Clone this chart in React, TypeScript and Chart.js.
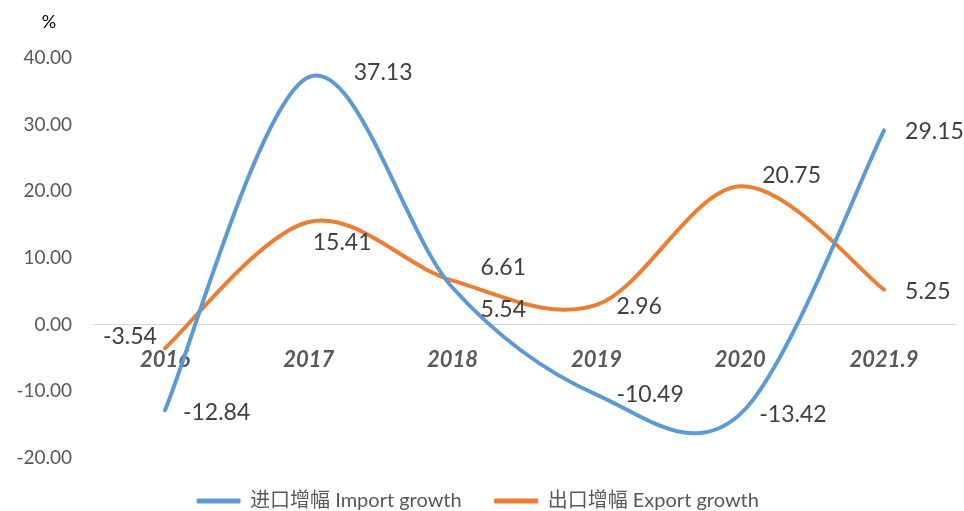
import React, { useEffect, useRef } from "react";
import { Chart, registerables } from "chart.js";

Chart.register(...registerables);

const categories = ["2016", "2017", "2018", "2019", "2020", "2021.9"];
const importGrowth = [-12.84, 37.13, 5.54, -10.49, -13.42, 29.15];
const exportGrowth = [-3.54, 15.41, 6.61, 2.96, 20.75, 5.25];
const yTicks = [-20, -10, 0, 10, 20, 30, 40];
const seriesNames = ["进口增幅 Import growth", "出口增幅 Export growth"];

// label placement (pixel offsets from each point) – style only
const labelOffsets = [
  [[18, 2], [45, -5], [28, 22], [20, 0], [19, 0], [21, 1]],
  [[-62, -12], [4, 21], [28, -13], [20, 2], [22, -11], [21, 2]],
];

const FONT = "Lato, 'Noto Sans CJK SC', 'Noto Sans', sans-serif";
const CANVAS_H = 521;

const excelSpline = {
  id: "excelSpline",
  beforeDatasetsDraw(chart: any) {
    chart.data.datasets.forEach((_ds: any, i: number) => {
      const meta = chart.getDatasetMeta(i);
      const pts = meta.data;
      const n = pts.length;
      for (let k = 0; k < n; k++) {
        const p = pts[k];
        const prev = pts[k - 1] || p;
        const next = pts[k + 1] || p;
        const tx = (next.x - prev.x) / 6;
        const ty = (next.y - prev.y) / 6;
        p.cp1x = p.x - tx;
        p.cp1y = p.y - ty;
        p.cp2x = p.x + tx;
        p.cp2y = p.y + ty;
      }
      if (meta.dataset) meta.dataset._pointsUpdated = true;
    });
  },
};

const dataLabels = {
  id: "dataLabels",
  afterDatasetsDraw(chart: any) {
    const ctx = chart.ctx;
    ctx.save();
    ctx.font = `23px ${FONT}`;
    ctx.fillStyle = "#404040";
    ctx.textAlign = "left";
    ctx.textBaseline = "middle";
    chart.data.datasets.forEach((ds: any, i: number) => {
      const meta = chart.getDatasetMeta(i);
      meta.data.forEach((p: any, k: number) => {
        const [dx, dy] = labelOffsets[i][k];
        ctx.fillText(Number(ds.data[k]).toFixed(2), p.x + dx, p.y + dy);
      });
    });
    ctx.restore();
  },
};

const unitLabel = {
  id: "unitLabel",
  afterDraw(chart: any) {
    const ctx = chart.ctx;
    ctx.save();
    ctx.font = `18px ${FONT}`;
    ctx.fillStyle = "#000000";
    ctx.textAlign = "center";
    ctx.textBaseline = "middle";
    ctx.fillText("%", 49, 22);
    ctx.restore();
  },
};

export default function App() {
  const canvasRef = useRef<HTMLCanvasElement | null>(null);

  useEffect(() => {
    if (!canvasRef.current) return;
    const chart = new Chart(canvasRef.current, {
      type: "line",
      data: {
        labels: categories,
        datasets: [
          {
            label: seriesNames[0],
            data: importGrowth,
            borderColor: "#5B9BD5",
            backgroundColor: "#5B9BD5",
            borderWidth: 4,
            pointRadius: 0,
            tension: 0.4,
            fill: false,
            borderCapStyle: "round",
          },
          {
            label: seriesNames[1],
            data: exportGrowth,
            borderColor: "#ED7D31",
            backgroundColor: "#ED7D31",
            borderWidth: 4,
            pointRadius: 0,
            tension: 0.4,
            fill: false,
            borderCapStyle: "round",
          },
        ],
      },
      options: {
        responsive: false,
        animation: false,
        devicePixelRatio: 1,
        layout: { padding: { top: 58, right: 8, left: 0, bottom: 0 } },
        plugins: {
          tooltip: { enabled: false },
          title: { display: false },
          legend: {
            position: "bottom",
            labels: {
              boxWidth: 43,
              boxHeight: 4,
              padding: 33,
              color: "#595959",
              font: { family: FONT, size: 20 },
              generateLabels: (c: any) =>
                c.data.datasets.map((ds: any, i: number) => ({
                  text: ds.label,
                  fillStyle: ds.borderColor,
                  strokeStyle: ds.borderColor,
                  lineWidth: 1,
                  hidden: false,
                  datasetIndex: i,
                  fontColor: "#595959",
                })),
            },
          },
        },
        scales: {
          x: {
            type: "category",
            offset: true,
            position: { y: 0 } as any,
            grid: { display: false, drawTicks: false },
            border: { display: true, color: "#d9d9d9", width: 1 },
            ticks: {
              color: "#595959",
              padding: 22,
              maxRotation: 0,
              font: { family: FONT, size: 22, weight: "bold", style: "italic" },
            },
          },
          y: {
            min: -20,
            max: 40,
            afterFit: (s: any) => {
              s.width = 93;
            },
            afterBuildTicks: (s: any) => {
              s.ticks = yTicks.map((v) => ({ value: v }));
            },
            grid: { display: false, drawTicks: false },
            border: { display: false },
            ticks: {
              color: "#595959",
              padding: 21,
              font: { family: FONT, size: 19 },
              callback: (v: any) => Number(v).toFixed(2),
            },
          },
        },
      },
      plugins: [excelSpline, dataLabels, unitLabel],
    });
    return () => chart.destroy();
  }, []);

  return (
    <div
      style={{
        position: "fixed",
        left: 0,
        top: 0,
        width: 964,
        height: 511,
        overflow: "hidden",
        background: "#ffffff",
      }}
    >
      <canvas
        ref={canvasRef}
        width={964}
        height={CANVAS_H}
        style={{ display: "block", width: 964, height: CANVAS_H }}
      />
    </div>
  );
}
